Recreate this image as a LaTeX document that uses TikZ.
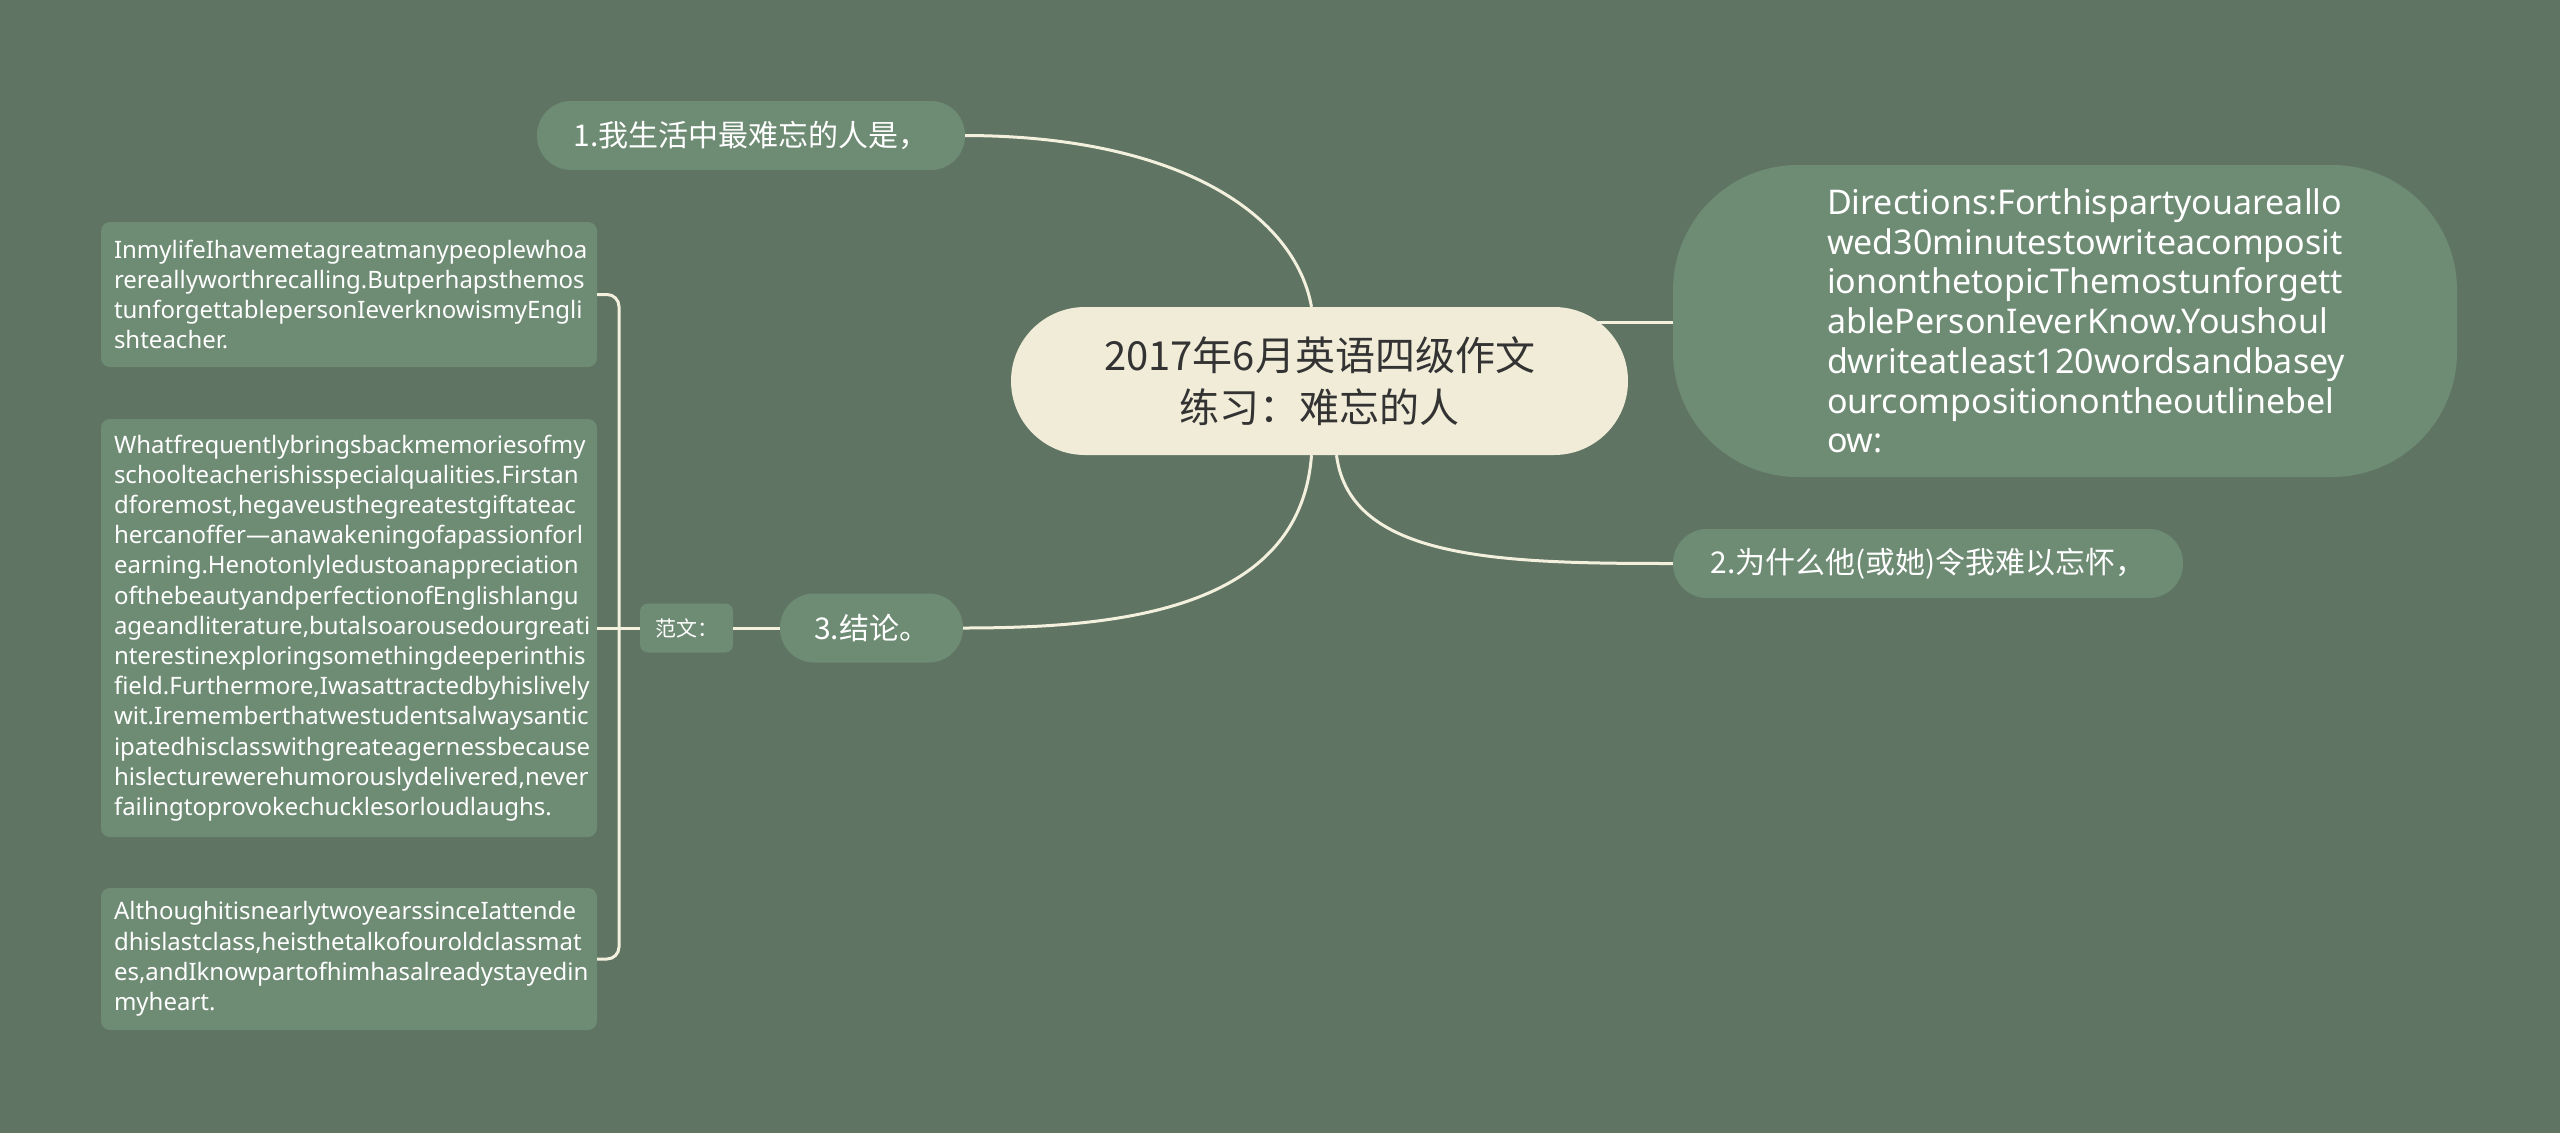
\documentclass[tikz,border=0pt]{standalone}
\usepackage{fontspec}
\setmainfont{Noto Sans}
\newfontfamily\cjk{Noto Sans CJK SC}
\usetikzlibrary{calc}
\definecolor{bg}{HTML}{5F7463}
\definecolor{nodeg}{HTML}{6E8B74}
\definecolor{cream}{HTML}{F0ECD8}
\definecolor{linec}{HTML}{F4F0DE}
\definecolor{dark}{HTML}{333333}
\begin{document}
\begin{tikzpicture}[x=1pt,y=-1pt,
  conn/.style={draw=linec,line width=3pt},
  topic/.style={fill=nodeg,text=white,rounded corners=34pt,minimum height=69pt,inner sep=0pt,font=\cjk\fontsize{30}{36}\selectfont},
  leaf/.style={fill=nodeg,text=white,rounded corners=9pt,inner sep=0pt,minimum width=496pt,text width=470pt,align=left,font=\fontsize{24}{30.2}\selectfont},
  root/.style={fill=cream,text=dark,rounded corners=74pt,minimum width=617pt,minimum height=148pt,inner sep=0pt,align=center,font=\cjk\fontsize{40}{52}\selectfont},
  intro/.style={fill=nodeg,text=white,rounded corners=125pt,minimum width=784pt,minimum height=312pt,inner sep=0pt,font=\fontsize{34}{39.7}\selectfont},
  tag/.style={fill=nodeg,text=white,rounded corners=8pt,minimum width=93pt,minimum height=49pt,inner sep=0pt,font=\cjk\fontsize{21}{25}\selectfont}
]
\fill[bg] (0,0) rectangle (2560,1133);
\useasboundingbox (0,0) rectangle (2560,1133);

\node[root] (c) at (1319.5,381) {2017年6月英语四级作文\\练习：难忘的人};
\node[intro] (d) at (2065,321) {\hspace*{44pt}\parbox[c]{520pt}{\raggedright Directions:Forthispartyouareallo\\wed30minutestowriteacomposit\\iononthetopicThemostunforgett\\ablePersonIeverKnow.Youshoul\\dwriteatleast120wordsandbasey\\ourcompositionontheoutlinebel\\ow:}};
\node[topic,minimum width=428pt] (n1) at (751,135.5) {1.我生活中最难忘的人是，};
\node[topic,minimum width=510pt] (n2) at (1928,563.5) {2.为什么他(或她)令我难以忘怀，};
\node[topic,minimum width=183pt] (n3) at (871.5,628) {3.结论。};
\node[tag] (fw) at (686.5,628) {范文：};

\node[leaf,minimum height=145pt] (l1) at (349,294.5) {InmylifeIhavemetagreatmanypeoplewhoa\\rereallyworthrecalling.Butperhapsthemos\\tunforgettablepersonIeverknowismyEngli\\shteacher.};
\node[leaf,minimum height=418pt] (l2) at (349,628) {Whatfrequentlybringsbackmemoriesofmy\\schoolteacherishisspecialqualities.Firstan\\dforemost,hegaveusthegreatestgiftateac\\hercanoffer—anawakeningofapassionforl\\earning.Henotonlyledustoanappreciation\\ofthebeautyandperfectionofEnglishlangu\\ageandliterature,butalsoarousedourgreati\\nterestinexploringsomethingdeeperinthis\\field.Furthermore,Iwasattractedbyhislively\\wit.Irememberthatwestudentsalwaysantic\\ipatedhisclasswithgreateagernessbecause\\hislecturewerehumorouslydelivered,never\\failingtoprovokechucklesorloudlaughs.};
\node[leaf,minimum height=142pt] (l3) at (349,959) {AlthoughitisnearlytwoyearssinceIattende\\dhislastclass,heisthetalkofouroldclassmat\\es,andIknowpartofhimhasalreadystayedin\\myheart.};

\coordinate (bk) at (619,628);
\coordinate (ct) at ($(c.north)+(-8,0)$);
\coordinate (cb1) at ($(c.south)+(-8,0)$);
\coordinate (cb2) at ($(c.south)+(17,0)$);
\coordinate (cr) at ($(c.east)+(-30,-59)$);

\draw[conn] (n1.east) .. controls (1180,136) and (1295,215) .. (ct);
\draw[conn] (cb1) .. controls (1300,610) and (1120,628) .. (n3.east);
\draw[conn] (cb2) .. controls (1350,560) and (1500,563.5) .. (n2.west);
\draw[conn] (cr) -- (cr -| d.west);
\draw[conn] (fw.east) -- (n3.west);
\draw[conn] (fw.west) -- (l2.east);
\draw[conn,rounded corners=12pt] (l1.east) -| (bk) |- (l3.east);
\end{tikzpicture}
\end{document}
